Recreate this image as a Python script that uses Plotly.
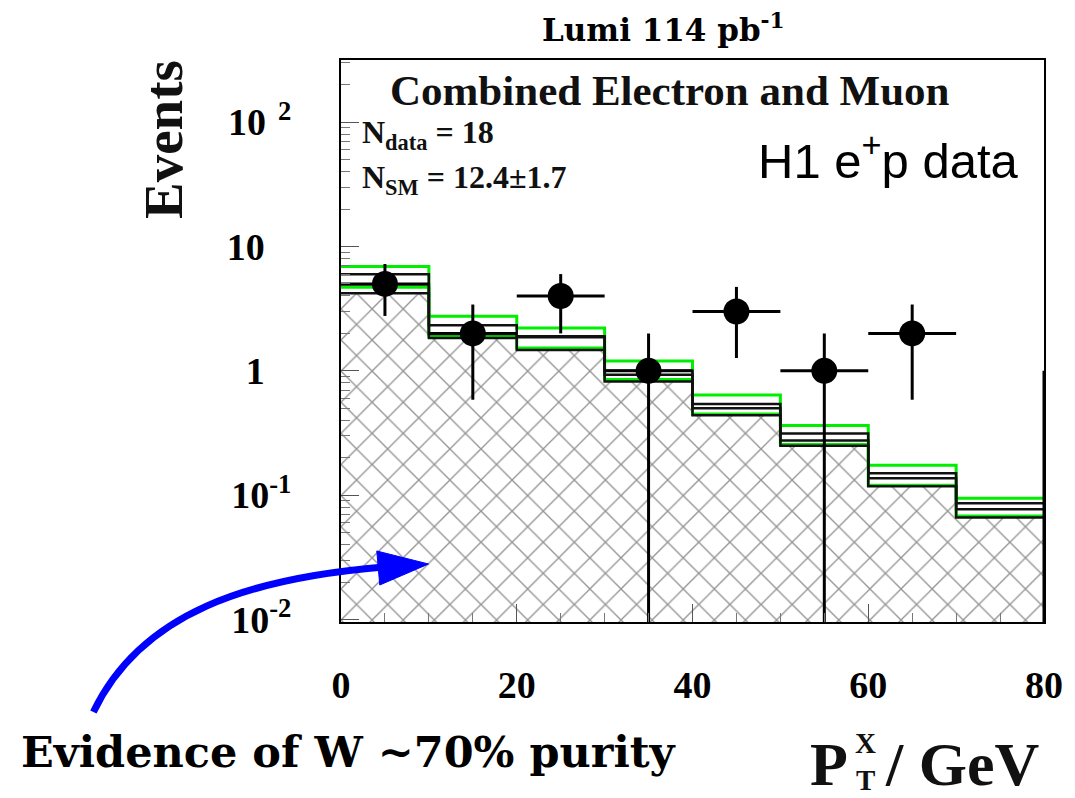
import numpy as np
import plotly.graph_objects as go

# ---------------- data ----------------
bin_edges = [0, 10, 20, 30, 40, 50, 60, 70, 80]
data_counts = [5, 2, 4, 1, 3, 1, 2, 0]
sm_green_hi = [6.9, 2.75, 2.21, 1.20, 0.64, 0.363, 0.174, 0.0946]
sm_black_hi = [5.97, 2.33, 1.90, 1.00, 0.54, 0.313, 0.150, 0.086]
sm_black_mid = [4.97, 1.98, 1.86, 0.93, 0.50, 0.275, 0.137, 0.077]
sm_green_lo = [4.70, 1.90, 1.53, 0.85, 0.45, 0.256, 0.120, 0.068]
w_signal = [4.20, 1.84, 1.47, 0.82, 0.44, 0.250, 0.118, 0.066]
zero_bin_edge_x = 80
zero_bin_err_top = 1.0
x_tick_vals = [0, 20, 40, 60, 80]
x_tick_text = ["0", "20", "40", "60", "80"]
y_tick_vals = [0.01, 0.1, 1, 10, 100]
y_tick_base = ["10", "10", "1", "10", "10"]
y_tick_exp = ["-2", "-1", "", "", "\u2009 2"]

# ---------------- layout geometry ----------------
W, H = 1075, 798
L, R, T, B = 341, 1048, 60, 622
YLOG_MIN, YLOG_MAX = -2.02, 2.5
ymin_val = 10 ** YLOG_MIN


def px(x):
    return (x - L) / (R - L)


def py(y):
    return (B - y) / (B - T)


edges = np.array(bin_edges, dtype=float)
centers = 0.5 * (edges[:-1] + edges[1:])
widths = np.diff(edges)

fig = go.Figure()

# hatched W contribution
fig.add_trace(go.Bar(
    x=centers, y=w_signal, width=widths,
    marker=dict(color="white", line=dict(width=0),
                pattern=dict(shape="x", size=22, solidity=0.12,
                             fgcolor="#2a2a2a", bgcolor="white", fillmode="overlay")),
    hoverinfo="skip", showlegend=False))


def step(vals, color, width):
    ys = list(vals) + [vals[-1]]
    fig.add_trace(go.Scatter(x=edges, y=ys, mode="lines", line_shape="hv",
                             line=dict(color=color, width=width),
                             hoverinfo="skip", showlegend=False))


step(sm_green_hi, "#00ee00", 3)
step(sm_green_lo, "#00ee00", 3)
step(sm_black_hi, "#111111", 2.5)
step(sm_black_mid, "#111111", 2.5)
step(w_signal, "#111111", 2.5)

# data points
counts = np.array(data_counts, dtype=float)
mask = counts > 0
cnt = counts[mask]
err = np.sqrt(cnt)
err_lo = cnt - np.maximum(cnt - err, ymin_val)
fig.add_trace(go.Scatter(
    x=centers[mask], y=cnt, mode="markers",
    marker=dict(color="black", size=26, symbol="circle"),
    error_y=dict(type="data", symmetric=False, array=err, arrayminus=err_lo,
                 color="black", thickness=3, width=0),
    error_x=dict(type="data", array=widths[mask] / 2, color="black", thickness=3, width=0),
    hoverinfo="skip", showlegend=False))

# error line of the empty last bin
fig.add_trace(go.Scatter(x=[zero_bin_edge_x, zero_bin_edge_x], y=[ymin_val, zero_bin_err_top],
                         mode="lines", line=dict(color="black", width=3),
                         hoverinfo="skip", showlegend=False, cliponaxis=False))

serif = "Liberation Serif"
tickfont = dict(family=serif, size=38, color="black")


def ylab(base, exp):
    if exp:
        return "<b>%s</b><sup><b>%s</b></sup>" % (base, exp)
    return "<b>%s</b><sup>\u2007\u2007</sup>" % base


fig.update_layout(
    width=W, height=H,
    margin=dict(l=L, r=W - R, t=T, b=H - B),
    paper_bgcolor="white", plot_bgcolor="white",
    bargap=0, showlegend=False,
    xaxis=dict(range=[0, 80], showgrid=False, zeroline=False,
               showline=True, linecolor="black", linewidth=2, mirror=True,
               ticks="inside", ticklen=18, tickwidth=1, tickcolor="#555",
               tickvals=x_tick_vals, ticktext=["<b>%s</b>" % t for t in x_tick_text],
               tickfont=tickfont, ticklabelstandoff=28,
               minor=dict(ticks="inside", ticklen=9, dtick=5, tickcolor="#777", tickwidth=1)),
    yaxis=dict(type="log", range=[YLOG_MIN, YLOG_MAX], showgrid=False, zeroline=False,
               showline=True, linecolor="black", linewidth=2, mirror=True,
               ticks="inside", ticklen=18, tickwidth=1, tickcolor="#555",
               tickvals=y_tick_vals,
               ticktext=[ylab(b, e) for b, e in zip(y_tick_base, y_tick_exp)],
               tickfont=tickfont, ticklabelstandoff=40,
               minor=dict(ticks="inside", ticklen=9, dtick="D1", tickcolor="#777", tickwidth=1)),
)

ann = []
ann.append(dict(text="<b>Lumi 114 pb<sup>-1</sup></b>", x=px(665), y=py(28),
                font=dict(family="DejaVu Serif", size=31, color="black")))
ann.append(dict(text="<b>Combined Electron and Muon</b>", x=px(672), y=py(90),
                font=dict(family=serif, size=43, color="#111")))
ann.append(dict(text="<b>N<sub>data</sub> = 18</b>", x=px(360), y=py(135), xanchor="left",
                font=dict(family=serif, size=32, color="#111")))
ann.append(dict(text="<b>N<sub>SM</sub> = 12.4\u00b11.7</b>", x=px(360), y=py(179), xanchor="left",
                font=dict(family=serif, size=32, color="#111")))
ann.append(dict(text="H1 e<sup>+</sup>p data", x=px(892), y=py(157),
                font=dict(family="Liberation Sans", size=49, color="#000")))
ann.append(dict(text="<b>Events</b>", x=px(162), y=py(140), textangle=-90,
                font=dict(family=serif, size=55, color="#111")))
ann.append(dict(text="<b>Evidence of W ~70% purity</b>", x=px(349), y=py(752),
                font=dict(family="DejaVu Serif", size=43, color="black")))
ann.append(dict(text="<b>P</b>", x=px(853), y=py(764), xanchor="right",
                font=dict(family=serif, size=62, color="#111")))
ann.append(dict(text="<b>X</b>", x=px(868), y=py(743),
                font=dict(family=serif, size=29, color="#111")))
ann.append(dict(text="<b>T</b>", x=px(868), y=py(780),
                font=dict(family=serif, size=29, color="#111")))
ann.append(dict(text="<b>/ GeV</b>", x=px(886), y=py(764), xanchor="left",
                font=dict(family=serif, size=62, color="#111")))
for a in ann:
    a.update(xref="paper", yref="paper", showarrow=False)
    a.setdefault("xanchor", "center")
    a.setdefault("yanchor", "middle")
fig.update_layout(annotations=ann)

# curved blue arrow
p0, c1, c2, p3 = (92, 712), (140, 612), (250, 578), (384, 567)
path = "M %f,%f C %f,%f %f,%f %f,%f" % (px(p0[0]), py(p0[1]), px(c1[0]), py(c1[1]),
                                        px(c2[0]), py(c2[1]), px(p3[0]), py(p3[1]))
head = "M %f,%f L %f,%f L %f,%f Z" % (px(377), py(551), px(429), py(564), px(380), py(585))
fig.add_shape(type="path", path=path, xref="paper", yref="paper",
              line=dict(color="#0000ff", width=7))
fig.add_shape(type="path", path=head, xref="paper", yref="paper",
              line=dict(color="#0000ff", width=1), fillcolor="#0000ff")

fig.write_html("out.html")
